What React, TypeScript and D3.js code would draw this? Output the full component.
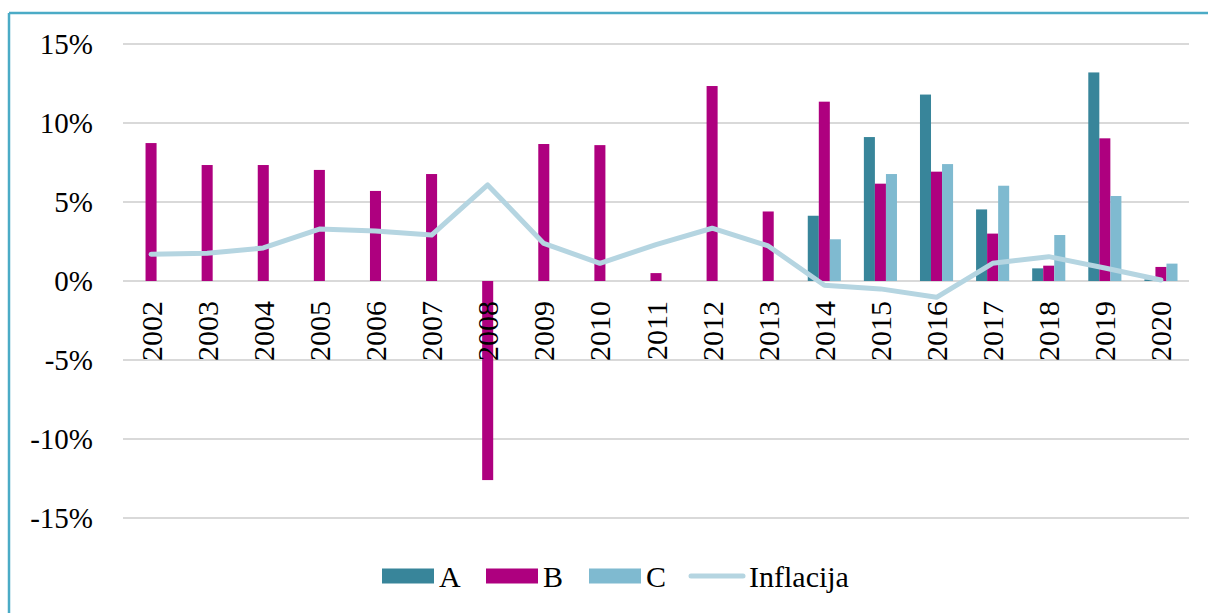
import React from "react";
import * as d3 from "d3";

const years = ["2002","2003","2004","2005","2006","2007","2008","2009","2010","2011","2012","2013","2014","2015","2016","2017","2018","2019","2020"];
const seriesA: (number | null)[] = [null,null,null,null,null,null,null,null,null,null,null,null,4.13,9.11,11.8,4.53,0.8,13.2,0.1];
const seriesB: (number | null)[] = [8.73,7.34,7.34,7.03,5.7,6.77,-12.6,8.67,8.6,0.5,12.34,4.4,11.35,6.16,6.92,3.0,0.97,9.03,0.89];
const seriesC: (number | null)[] = [null,null,null,null,null,null,null,null,null,null,null,null,2.64,6.77,7.4,6.03,2.91,5.38,1.1];
const inflacija: number[] = [1.69,1.75,2.09,3.29,3.16,2.91,6.08,2.38,1.12,2.3,3.34,2.22,-0.27,-0.5,-1.03,1.12,1.54,0.82,0.06];
const yTicks = [15, 10, 5, 0, -5, -10, -15];
const seriesNames = ["A", "B", "C"];
const colors: Record<string, string> = { A: "#38859A", B: "#AE007F", C: "#7FBAD0" };
const lineColor = "#B5D5E1";

const FONT = "Liberation Serif, Times New Roman, serif";
const txtStyle: React.CSSProperties = { fontFamily: FONT };

export default function App() {
  const W = 1208, H = 613;
  const left = 123, right = 1189, top = 44, bottom = 518;
  const x = d3.scaleBand<string>().domain(years).range([left, right]).paddingInner(0.41).paddingOuter(0.205);
  const xs = d3.scaleBand<string>().domain(seriesNames).range([0, x.bandwidth()]);
  const y = d3.scaleLinear().domain([-15, 15]).range([bottom, top]);
  const data: Record<string, (number | null)[]> = { A: seriesA, B: seriesB, C: seriesC };
  const line = d3.line<number>()
    .x((_, i) => (x(years[i]) as number) + x.bandwidth() / 2)
    .y((d) => y(d));

  const legendItems = [
    { key: "A", x: 382, type: "rect" },
    { key: "B", x: 486, type: "rect" },
    { key: "C", x: 589, type: "rect" },
    { key: "Inflacija", x: 689, type: "line" },
  ];

  return (
    <svg width={W} height={H} style={{ position: "absolute", left: 0, top: 0, background: "#fff" }}>
      <rect x={0} y={0} width={W} height={H} fill="#fff" />
      <line x1={9} y1={13} x2={W} y2={13} stroke="#4BABC6" strokeWidth={2.5} />
      <line x1={9} y1={13} x2={9} y2={H} stroke="#4BABC6" strokeWidth={2.5} />
      {yTicks.map((t) => (
        <g key={t}>
          <line x1={left} x2={right} y1={y(t)} y2={y(t)} stroke="#D9D9D9" strokeWidth={1.8} />
          <text x={93} y={y(t)} dy="0.35em" textAnchor="end" fontSize={29} fill="#000" style={txtStyle}>{t}%</text>
        </g>
      ))}
      {seriesNames.map((s) =>
        data[s].map((v, i) =>
          v === null ? null : (
            <rect
              key={s + i}
              x={(x(years[i]) as number) + (xs(s) as number)}
              y={Math.min(y(v), y(0))}
              width={xs.bandwidth()}
              height={Math.abs(y(v) - y(0))}
              fill={colors[s]}
            />
          )
        )
      )}
      <path d={line(inflacija) || ""} fill="none" stroke={lineColor} strokeWidth={5} strokeLinejoin="round" strokeLinecap="round" />
      {years.map((yr) => {
        const cx = (x(yr) as number) + x.bandwidth() / 2;
        return (
          <text key={yr} transform={`translate(${cx},${y(0) + 20}) rotate(-90)`} dy="0.35em" textAnchor="end" fontSize={30} fill="#000" style={txtStyle}>{yr}</text>
        );
      })}
      {legendItems.map((it) => (
        <g key={it.key}>
          {it.type === "rect" ? (
            <rect x={it.x} y={568.5} width={52} height={15} fill={colors[it.key]} />
          ) : (
            <line x1={it.x + 2} x2={it.x + 54} y1={576} y2={576} stroke={lineColor} strokeWidth={5} strokeLinecap="round" />
          )}
          <text x={it.x + (it.type === "rect" ? 57 : 60)} y={587} fontSize={30} fill="#000" style={txtStyle}>{it.key}</text>
        </g>
      ))}
    </svg>
  );
}
